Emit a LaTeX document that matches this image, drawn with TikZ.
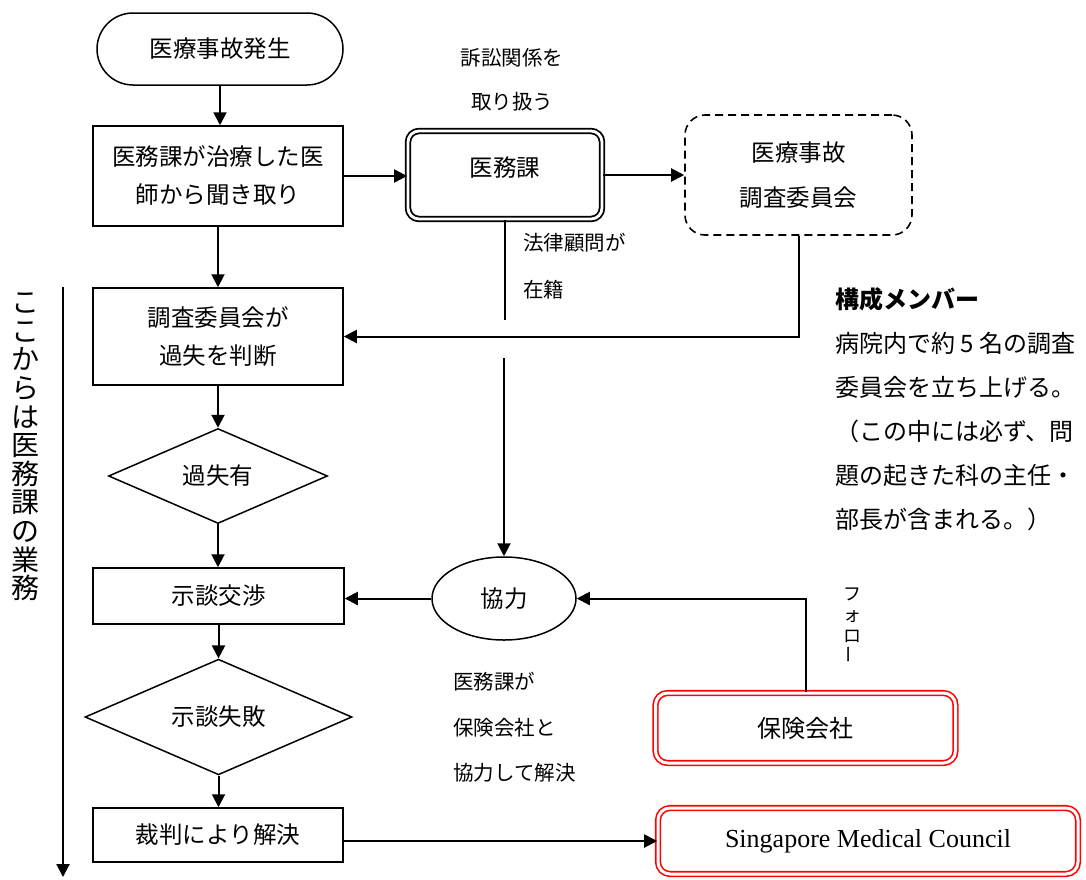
\documentclass[tikz,border=0pt]{standalone}
\usepackage{fontspec}
\usepackage{graphicx}
\setmainfont{Noto Sans CJK JP}
\newfontfamily\latfont{Liberation Serif}
\usetikzlibrary{arrows.meta,shapes.geometric,shapes.misc}
\begin{document}
\begin{tikzpicture}[x=1pt,y=-1pt,
  arr/.style={line width=2pt,-{Triangle[length=13pt,width=13pt]}},
  plain/.style={line width=2pt},
  box/.style={draw,line width=1.5pt,inner sep=0pt,align=center,font=\fontsize{23.5}{38}\selectfont},
  stad/.style={draw,rounded rectangle,line width=1.5pt,inner sep=0pt,font=\fontsize{23.5}{38}\selectfont},
  dbox/.style={draw,double=white,double distance=2.8pt,line width=1.8pt,rounded corners=11pt,inner sep=0pt,font=\fontsize{23.5}{38}\selectfont},
  dashbox/.style={draw,line width=1.6pt,dash pattern=on 8pt off 5pt,rounded corners=20pt,inner sep=0pt,align=center,font=\fontsize{23.5}{45}\selectfont},
  dia/.style={draw,diamond,line width=1.5pt,inner sep=0pt,font=\fontsize{23.5}{38}\selectfont},
  ell/.style={draw,ellipse,line width=1.5pt,inner sep=0pt,font=\fontsize{23.5}{38}\selectfont},
  rbox/.style={draw=red,double=white,double distance=3pt,line width=1.6pt,rounded corners=12pt,inner sep=0pt,font=\fontsize{24}{38}\selectfont},
  lbl/.style={inner sep=0pt,align=left,font=\fontsize{20.5}{44}\selectfont},
]
\useasboundingbox (0,0) rectangle (1086,879);

% nodes
\node[stad,minimum width=246pt,minimum height=72pt] (start) at (220,49) {医療事故発生};
\node[box,minimum width=250pt,minimum height=100pt] (hear) at (218,176) {医務課が治療した医\\師から聞き取り};
\node[dbox,minimum width=194pt,minimum height=88pt] (ika) at (505,175) {\raisebox{16pt}{医務課}};
\node[dashbox,minimum width=227pt,minimum height=120pt] (comm) at (798.5,175) {医療事故\\調査委員会};
\node[box,minimum width=250pt,minimum height=97pt] (judge) at (218,336.5) {調査委員会が\\過失を判断};
\node[dia,minimum width=219pt,minimum height=95pt] (fault) at (218,476) {過失有};
\node[box,minimum width=251pt,minimum height=56pt] (nego) at (218.5,596) {示談交渉};
\node[ell,minimum width=144pt,minimum height=83pt] (kyo) at (504,598.5) {協力};
\node[dia,minimum width=267pt,minimum height=98pt] (fail) at (218.5,717) {示談失敗};
\node[box,minimum width=250pt,minimum height=54pt] (court) at (218,835) {裁判により解決};
\node[rbox,minimum width=300pt,minimum height=70pt] (ins) at (805.5,728) {保険会社};
\node[rbox,minimum width=420pt,minimum height=66pt] (smc) at (868,841) {\latfont\fontsize{26}{30}\selectfont Singapore Medical Council};

% labels
\node[lbl,align=center] (lab1) at (512,80) {訴訟関係を\\取り扱う};
\node[lbl,anchor=west,font=\fontsize{20.5}{47}\selectfont] (lab2) at (523,266.5) {法律顧問が\\在籍};
\node[lbl,anchor=west,font=\fontsize{20.5}{45.5}\selectfont] (lab3) at (453,727.5) {医務課が\\保険会社と\\協力して解決};
\node[lbl,anchor=west,font=\fontsize{24}{44}\selectfont] (lab4) at (835,409.5) {\textbf{構成メンバー}\\病院内で約 5 名の調査\\委員会を立ち上げる。\\（この中には必ず、問\\題の起きた科の主任・\\部長が含まれる。）};
\node[inner sep=0pt,align=center,font=\fontsize{18}{21}\selectfont] (lab5) at (852,626) {フ\\ォ\\ロ\\\rotatebox{90}{ー}};
\node[inner sep=0pt,align=center,font=\fontsize{28}{28.6}\selectfont] (lab6) at (26,447) {こ\\こ\\か\\ら\\は\\医\\務\\課\\の\\業\\務};

% coordinates
\coordinate (lawend) at (505,320);
\coordinate (kstart) at (504,358);
\coordinate (vtop) at (63,287);
\coordinate (vbot) at (63,877);

% connectors
\draw[arr] (start.south) -- (start.south |- hear.north);
\draw[arr] (hear.east) -- (hear.east -| ika.west);
\draw[arr] (ika.east) -- (ika.east -| comm.west);
\draw[plain] (ika.south) -- (lawend);
\draw[arr] (hear.south) -- (hear.south |- judge.north);
\draw[arr] (comm.south) |- (judge.east);
\draw[arr] (kstart) -- (kstart |- kyo.north);
\draw[arr] (judge.south) -- (fault.north);
\draw[arr] (fault.south) -- (fault.south |- nego.north);
\draw[arr] (kyo.west) -- (kyo.west -| nego.east);
\draw[arr] (ins.north) |- (kyo.east);
\draw[arr] (nego.south) -- (nego.south |- fail.north);
\draw[arr] (fail.south) -- (fail.south |- court.north);
\draw[arr] (court.east |- smc.west) -- (smc.west);
\draw[arr] (vtop) -- (vbot);
\end{tikzpicture}
\end{document}
